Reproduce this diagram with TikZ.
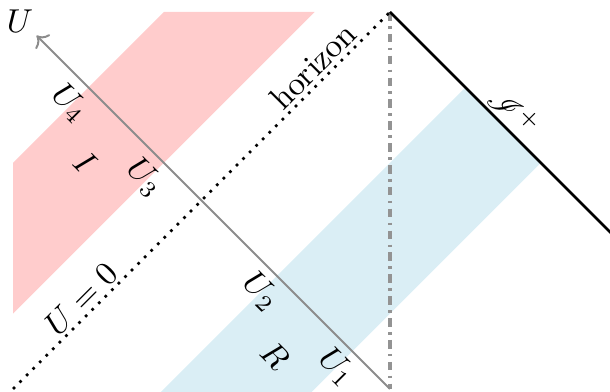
\documentclass[tikz,border=0pt]{standalone}
\usepackage{amsmath}
\usepackage{mathrsfs}
\usepackage{xcolor}
\usetikzlibrary{arrows, arrows.meta, positioning}
\definecolor{pinkband}{RGB}{255,204,204}
\definecolor{blueband}{RGB}{218,238,245}
\tikzstyle{horizonline} = [thick, dotted]
\tikzstyle{scriline} = [thick, black]
\tikzstyle{uarrow} = [gray!90, line width=0.6pt, ->]
\tikzstyle{centerline} = [line width=1.1pt, gray!85, dash pattern=on 2.6pt off 1.6pt on 0.8pt off 1.6pt]
\tikzstyle{lbl} = [rotate=-45, inner sep=1pt]
\tikzstyle{onlbl} = [sloped, above, inner sep=1pt]

\begin{document}
\begin{tikzpicture}
    \useasboundingbox (-4.138,-4.032) rectangle (2.334,0.127);
    % regions
    \fill[pinkband] (-4,-1.6) -- (-2.4,0) -- (-0.8,0) -- (-4,-3.2) -- cycle;
    \fill[blueband] (0.8,-0.8) -- (1.6,-1.6) -- (-0.832,-4.032) -- (-2.432,-4.032) -- cycle;

    \coordinate (apex) at (0,0);
    \coordinate (past) at (-4,-4);
    \coordinate (scriend) at (2.4,-2.4);
    \coordinate (rbottom) at (0,-4);
    \coordinate (utip) at (-3.75,-0.25);

    \draw[centerline] (apex) -- (rbottom);
    \draw[horizonline] (past) -- (apex)
        node[onlbl, pos=0.826] (hor) {horizon}
        node[onlbl, pos=0.21] (uzero) {$U=0$};
    \draw[scriline] (apex) -- (scriend) node[onlbl, pos=0.496] (scri) {$\mathscr{I}^+$};
    \draw[uarrow] (rbottom) -- (utip);

    \node (ulab) at (-3.926,-0.095) {$U$};
    \node[lbl] (u4) at (-3.395,-0.966) {$U_4$};
    \node[lbl] (u3) at (-2.6,-1.76) {$U_3$};
    \node[lbl] (u2) at (-1.369,-2.971) {$U_2$};
    \node[lbl] (u1) at (-0.562,-3.767) {$U_1$};
    \node[lbl] (ireg) at (-3.225,-1.602) {$I$};
    \node[lbl] (rreg) at (-1.21,-3.64) {$R$};
\end{tikzpicture}
\end{document}
